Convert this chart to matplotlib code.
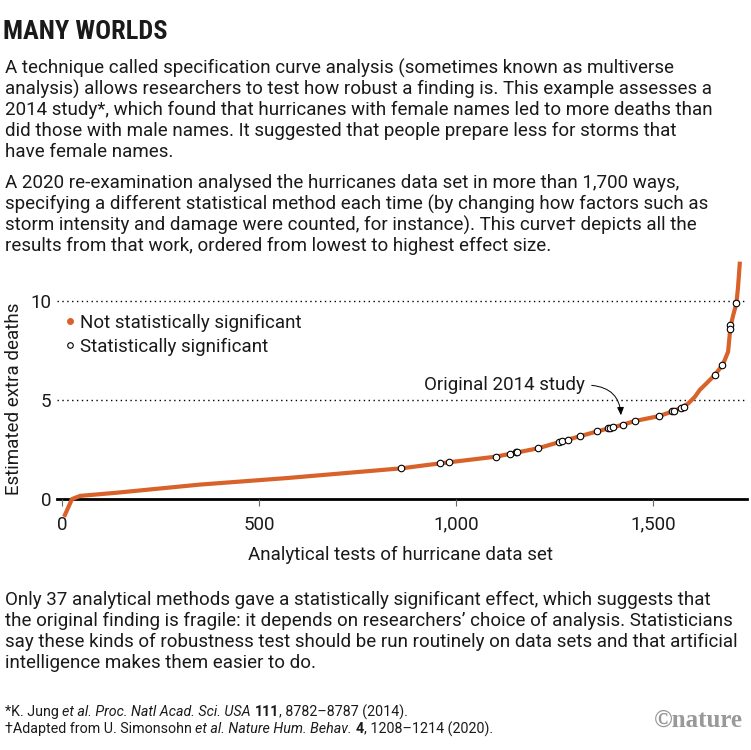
import matplotlib.pyplot as plt
from matplotlib.lines import Line2D

plt.rcParams['font.family'] = ['Roboto', 'DejaVu Sans']

# curve (ordered effect sizes)
test_idx = [5, 15, 25, 46, 139, 350, 571, 807, 861, 959, 1101, 1208, 1284, 1359,
            1423, 1454, 1516, 1552, 1577, 1590, 1607, 1619, 1636, 1657, 1678, 1691,
            1697, 1704, 1712, 1716, 1721]
effect = [-0.9, -0.45, 0.0, 0.16, 0.32, 0.73, 1.06, 1.46, 1.55, 1.80, 2.14, 2.56, 3.0, 3.42,
          3.75, 3.94, 4.19, 4.44, 4.66, 4.83, 5.17, 5.51, 5.84, 6.26, 6.80, 7.44,
          8.70, 9.29, 9.88, 10.64, 11.99]

# statistically significant specifications
sig_idx = [861, 959, 983, 1101, 1137, 1152, 1156, 1208, 1261, 1269, 1284, 1315, 1359,
           1387, 1392, 1398, 1423, 1455, 1516, 1548, 1553, 1571, 1579, 1657, 1676,
           1695, 1695, 1712]
sig_effect = [1.55, 1.80, 1.85, 2.14, 2.29, 2.36, 2.36, 2.56, 2.89, 2.93, 3.0, 3.17, 3.42,
              3.58, 3.60, 3.62, 3.75, 3.92, 4.21, 4.43, 4.43, 4.61, 4.66, 6.28, 6.78,
              8.80, 8.60, 9.91]

orange = '#D9622B'
ink = '#1a1a1a'
W, H = 751, 750
fs = 13.5

fig = plt.figure(figsize=(7.51, 7.5), dpi=100)

def px(x, y):
    return x / W, 1 - y / H

fig.text(*px(3, 32), 'MANY WORLDS', fontsize=19, fontweight='bold',
         family='Roboto Condensed', va='center', ha='left', color=ink)

para1 = ['A technique called specification curve analysis (sometimes known as multiverse',
         'analysis) allows researchers to test how robust a finding is. This example assesses a',
         '2014 study*, which found that hurricanes with female names led to more deaths than',
         'did those with male names. It suggested that people prepare less for storms that',
         'have female names.']
para2 = ['A 2020 re-examination analysed the hurricanes data set in more than 1,700 ways,',
         'specifying a different statistical method each time (by changing how factors such as',
         'storm intensity and damage were counted, for instance). This curve\u2020 depicts all the',
         'results from that work, ordered from lowest to highest effect size.']
para3 = ['Only 37 analytical methods gave a statistically significant effect, which suggests that',
         'the original finding is fragile: it depends on researchers\u2019 choice of analysis. Statisticians',
         'say these kinds of robustness test should be run routinely on data sets and that artificial',
         'intelligence makes them easier to do.']

for y0, lines in [(68, para1), (183, para2), (600, para3)]:
    for i, s in enumerate(lines):
        fig.text(*px(5, y0 + i * 21), s, fontsize=fs, va='center', ha='left', color=ink)

# chart
ax = fig.add_axes([57 / W, 1 - 522.8 / H, 690 / W, 267.3 / H])
ax.set_xlim(-13, 1739)
ax.set_ylim(-1.2, 12.3)
for sp in ['top', 'right', 'left']:
    ax.spines[sp].set_visible(False)
ax.spines['bottom'].set_position(('data', 0))
ax.spines['bottom'].set_linewidth(2)
ax.spines['bottom'].set_color('black')
ax.spines['bottom'].set_zorder(1)

for yv in [5, 10]:
    ax.axhline(yv, color='black', lw=1, ls=(0, (1, 2.5)), zorder=0)

ax.plot(test_idx, effect, color=orange, lw=3, solid_capstyle='butt', zorder=2)
ax.scatter(sig_idx, sig_effect, s=22, facecolor='white', edgecolor='black',
           linewidth=0.8, zorder=3)

ax.set_xticks([0, 500, 1000, 1500])
ax.set_xticklabels(['0', '500', '1,000', '1,500'])
ax.set_yticks([0, 5, 10])
ax.tick_params(axis='x', length=5, width=0.8, color='#666666', pad=7,
               labelsize=fs, labelcolor=ink)
ax.tick_params(axis='y', length=0, pad=4, labelsize=fs, labelcolor=ink)

fig.text(*px(14, 399), 'Estimated extra deaths', rotation=90, fontsize=fs,
         va='center', ha='center', color=ink)
fig.text(*px(401, 555), 'Analytical tests of hurricane data set', fontsize=fs,
         va='center', ha='center', color=ink)

handles = [Line2D([], [], ls='', marker='o', ms=4, color=orange),
           Line2D([], [], ls='', marker='o', ms=4, markerfacecolor='white',
                  markeredgecolor='black', markeredgewidth=0.8)]
ax.legend(handles, ['Not statistically significant', 'Statistically significant'],
          loc='upper left', bbox_to_anchor=(0.0, 0.81), frameon=False,
          fontsize=fs, handlelength=0.6, handletextpad=0.25, labelspacing=0.3,
          borderaxespad=0, labelcolor=ink)

ax.annotate('Original 2014 study', xy=(1419, 4.09), xytext=(1327, 5.76),
            ha='right', va='center', fontsize=fs, color=ink,
            arrowprops=dict(arrowstyle='-|>,head_length=0.35,head_width=0.15',
                            color='black', lw=0.7, relpos=(1, 0.5), shrinkA=3, shrinkB=2,
                            connectionstyle='angle3,angleA=0,angleB=90'))

# footnotes with mixed styles
renderer = fig.canvas.get_renderer()

def runs(x, y, parts, size=10.3):
    for s, style, weight in parts:
        t = fig.text(*px(x, y), s, fontsize=size, style=style, fontweight=weight,
                     va='center', ha='left', color=ink)
        x += t.get_window_extent(renderer).width

runs(5, 712, [('*K. Jung\u00a0', 'normal', 'normal'),
              ('et al. Proc. Natl Acad. Sci. USA\u00a0', 'italic', 'normal'),
              ('111', 'normal', 'bold'),
              (', 8782\u20138787 (2014).', 'normal', 'normal')])
runs(5, 729, [('\u2020Adapted from U. Simonsohn\u00a0', 'normal', 'normal'),
              ('et al. Nature Hum. Behav.\u00a0', 'italic', 'normal'),
              ('4', 'normal', 'bold'),
              (', 1208\u20131214 (2020).', 'normal', 'normal')])

fig.text(*px(743, 720), '\u00a9nature', fontsize=18, fontweight='bold',
         family='Liberation Serif', color='#999999', ha='right', va='center')

fig.savefig('out.png', dpi=100, facecolor='white')
